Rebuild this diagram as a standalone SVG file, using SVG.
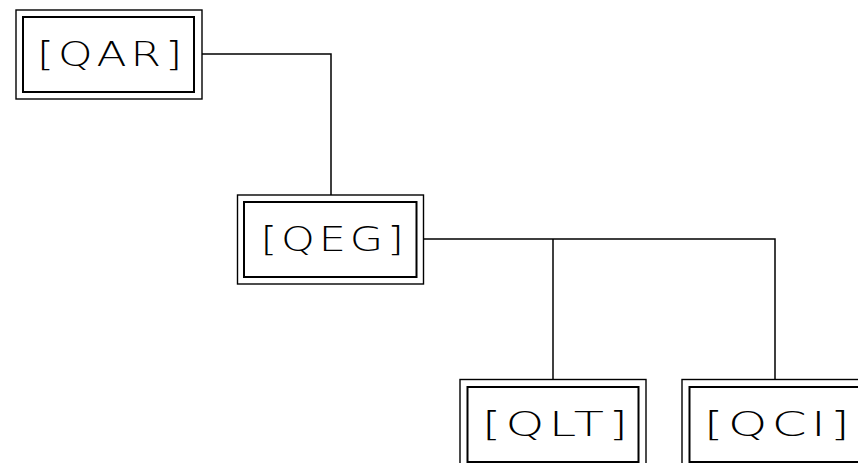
<svg xmlns="http://www.w3.org/2000/svg" width="858" height="463" viewBox="0 0 858 463">
<style>
.outer{fill:#fff;stroke:#000;stroke-width:1.4}
.inner{fill:none;stroke:#000;stroke-width:2}
.lbl{font-family:"DejaVu Sans","Liberation Sans",sans-serif;font-weight:200;font-size:34px;letter-spacing:3px;fill:#000}
.conn{fill:none;stroke:#000;stroke-width:1.5}
</style>
<rect width="858" height="463" fill="#fff"/>
<g id="connectors">
<path class="conn" d="M202 54 H331 V195"/>
<path class="conn" d="M423 239 H775 V380"/>
<path class="conn" d="M553 239 V380"/>
</g>
<g id="QAR">
<rect class="outer" x="16" y="10" width="186" height="89"/>
<rect class="inner" x="23" y="17" width="171" height="75"/>
<text class="lbl" x="37" y="66" textLength="149" lengthAdjust="spacingAndGlyphs">[QAR]</text>
</g>
<g id="QEG">
<rect class="outer" x="237.5" y="195" width="186" height="89"/>
<rect class="inner" x="244" y="202" width="172.5" height="75"/>
<text class="lbl" x="260.5" y="251" textLength="147" lengthAdjust="spacingAndGlyphs">[QEG]</text>
</g>
<g id="QLT">
<rect class="outer" x="460" y="379.5" width="186" height="89"/>
<rect class="inner" x="467.5" y="387" width="171" height="75"/>
<text class="lbl" x="482" y="436" textLength="150" lengthAdjust="spacingAndGlyphs">[QLT]</text>
</g>
<g id="QCI">
<rect class="outer" x="682" y="379.5" width="186" height="89"/>
<rect class="inner" x="689.5" y="387" width="171" height="75"/>
<text class="lbl" x="704" y="436" textLength="150" lengthAdjust="spacingAndGlyphs">[QCI]</text>
</g>
</svg>
